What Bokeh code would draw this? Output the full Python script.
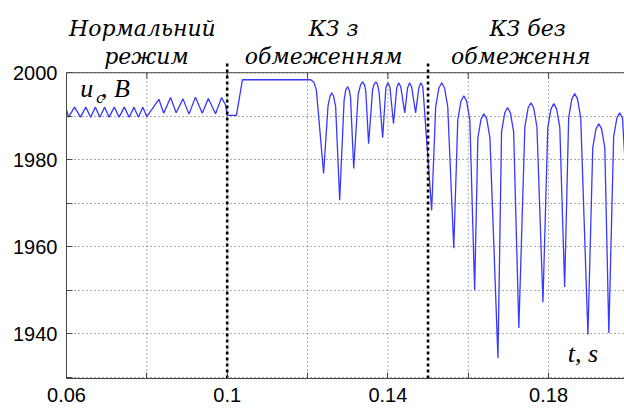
from bokeh.plotting import figure
from bokeh.models import FixedTicker, Label, Range1d, CustomJSTickFormatter
from bokeh.core.properties import value
from bokeh.embed import file_html
from bokeh.resources import INLINE

# ---- data ----
# normal mode (0.06 .. 0.1)
t_normal = [0.0600, 0.0605, 0.0620, 0.0635, 0.0648, 0.0660, 0.0672, 0.0683, 0.0695,
            0.0706, 0.0719, 0.0731, 0.0744, 0.0756, 0.0768, 0.0779, 0.0790, 0.0800,
            0.0830, 0.0842, 0.0859, 0.0873, 0.0890, 0.0905, 0.0921, 0.0938, 0.0953,
            0.0971, 0.0986, 0.0996]
u_normal = [1991.6, 1989.8, 1992.1, 1989.8, 1992.1, 1989.8, 1992.1, 1989.8, 1992.1,
            1989.8, 1992.1, 1989.8, 1992.1, 1989.8, 1992.1, 1989.8, 1992.1, 1989.9,
            1993.9, 1990.7, 1994.3, 1990.8, 1994.0, 1990.5, 1994.4, 1990.7, 1994.1,
            1990.6, 1994.3, 1992.6]

# short circuit with limiting (0.1 .. 0.15)
t_limited = [0.1000, 0.1023, 0.1038, 0.1208, 0.1216, 0.1222,
             0.1240,
             0.1251, 0.1256, 0.1260, 0.1265, 0.1270,
             0.1280,
             0.1291, 0.1295, 0.1300, 0.1304, 0.1307,
             0.1315,
             0.1326, 0.1332, 0.1337, 0.1342, 0.1345,
             0.1352,
             0.1362, 0.1366, 0.1370, 0.1374, 0.1378,
             0.1387,
             0.1395, 0.1400, 0.1405,
             0.1414,
             0.1422, 0.1427, 0.1432,
             0.1442,
             0.1449, 0.1454, 0.1459,
             0.1469,
             0.1477, 0.1482, 0.1487]
u_limited = [1990.2, 1990.2, 1998.4, 1998.4, 1997.8, 1996.0,
             1976.9,
             1992.4, 1994.6, 1995.4, 1994.6, 1992.2,
             1970.7,
             1993.6, 1996.0, 1996.8, 1996.0, 1994.4,
             1978.0,
             1995.0, 1997.2, 1997.9, 1997.2, 1995.8,
             1983.7,
             1996.2, 1997.4, 1997.9, 1997.4, 1995.6,
             1985.1,
             1996.5, 1997.7, 1996.8,
             1988.3,
             1996.5, 1997.7, 1996.8,
             1990.8,
             1996.5, 1997.7, 1996.8,
             1990.8,
             1996.5, 1997.7, 1996.8]

# short circuit without limiting (0.15 .. 0.2)
t_unlimited = [0.1509,
               0.1519, 0.1527, 0.1534, 0.1541, 0.1549,
               0.1564,
               0.1574, 0.1582, 0.1589, 0.1596, 0.1604,
               0.1616,
               0.1624, 0.1632, 0.1639, 0.1646, 0.1654,
               0.1674,
               0.1683, 0.1691, 0.1698, 0.1705, 0.1713,
               0.1726,
               0.1741, 0.1749, 0.1756, 0.1763, 0.1771,
               0.1786,
               0.1798, 0.1806, 0.1813, 0.1820, 0.1828,
               0.1840,
               0.1850, 0.1858, 0.1865, 0.1872, 0.1880,
               0.1898,
               0.1910, 0.1918, 0.1925, 0.1932, 0.1940,
               0.1950,
               0.1962, 0.1970, 0.1977, 0.1984, 0.1990]
u_unlimited = [1968.4,
               1992.2, 1996.5, 1997.7, 1996.5, 1992.2,
               1959.7,
               1989.2, 1993.5, 1994.7, 1993.5, 1989.2,
               1950.1,
               1985.1, 1989.4, 1990.6, 1989.4, 1985.1,
               1934.5,
               1986.5, 1990.8, 1992.0, 1990.8, 1986.5,
               1941.4,
               1987.6, 1991.9, 1993.1, 1991.9, 1987.6,
               1947.3,
               1987.4, 1991.7, 1992.9, 1991.7, 1987.4,
               1950.8,
               1989.7, 1994.0, 1995.2, 1994.0, 1989.7,
               1939.8,
               1982.8, 1987.1, 1988.3, 1987.1, 1982.8,
               1940.2,
               1985.3, 1989.6, 1990.8, 1989.6, 1980.0]

mode_bounds = [0.1, 0.15]
x_major = [0.06, 0.1, 0.14, 0.18]
x_minor = [0.08, 0.12, 0.16, 0.2]
y_major = [1940, 1960, 1980, 2000]
y_minor = [1930, 1950, 1970, 1990]

title_line1 = ["Нормальний", "КЗ з", "КЗ без"]
title_line2 = ["режим", "обмеженням", "обмеження"]

# ---- layout constants (not data) ----
T_MIN, T_MAX = 0.06, 0.1989
U_MIN, U_MAX = 1929.77, 2000.0        # plotting box
U_CANVAS_TOP = 2016.6                 # value at the very top of the canvas (title area)
TITLE_X1 = [0.0789, 0.1265, 0.1748]
TITLE_X2 = [0.0799, 0.1240, 0.1731]
TITLE_Y1, TITLE_Y2 = 2010.2, 2003.8
BOUND_TOP = 2002.3
TICK_LEN = 1.38
AXIS_COLOR = "#444444"
GRID_COLOR = "#555555"

t_all = t_normal + t_limited + t_unlimited
u_all = u_normal + u_limited + u_unlimited

p = figure(width=624, height=410, output_backend="svg", toolbar_location=None,
           x_range=Range1d(T_MIN, T_MAX), y_range=Range1d(U_MIN, U_CANVAS_TOP),
           min_border_left=66, min_border_right=0, min_border_top=0, min_border_bottom=32)
p.background_fill_color = "white"
p.border_fill_color = "white"
p.outline_line_color = None

fmt = CustomJSTickFormatter(code="return String(Math.round(tick*1000)/1000);")
for ax, maj, mnr in ((p.xaxis[0], x_major, x_minor), (p.yaxis[0], y_major, y_minor)):
    ax.ticker = FixedTicker(ticks=maj, minor_ticks=mnr)
    ax.formatter = fmt
    ax.major_tick_in = 6
    ax.major_tick_out = 0
    ax.minor_tick_in = 6
    ax.minor_tick_out = 0
    ax.axis_line_color = AXIS_COLOR
    ax.major_tick_line_color = AXIS_COLOR
    ax.minor_tick_line_color = AXIS_COLOR
    ax.major_label_text_font = "Liberation Sans"
    ax.major_label_text_font_size = "20px"
    ax.major_label_text_color = "black"
p.yaxis[0].bounds = (U_MIN, U_MAX)
p.xaxis[0].major_label_standoff = 9
p.yaxis[0].major_label_standoff = 9

# horizontal dotted grid
p.xgrid.visible = False
g = p.ygrid[0]
g.ticker = FixedTicker(ticks=y_major, minor_ticks=y_minor)
g.grid_line_color = GRID_COLOR
g.grid_line_dash = "1 3"
g.minor_grid_line_color = GRID_COLOR
g.minor_grid_line_dash = "1 3"

# vertical dotted grid limited to the plotting box
x_grid = x_major + x_minor
p.segment(x0=x_grid, x1=x_grid, y0=[U_MIN] * len(x_grid), y1=[U_MAX] * len(x_grid),
          line_color=GRID_COLOR, line_width=1, line_dash="1 3")

# upper border with inward ticks
p.segment(x0=[T_MIN], x1=[T_MAX], y0=[U_MAX], y1=[U_MAX], line_color=AXIS_COLOR, line_width=1)
p.segment(x0=x_grid, x1=x_grid, y0=[U_MAX] * len(x_grid), y1=[U_MAX - TICK_LEN] * len(x_grid),
          line_color=AXIS_COLOR, line_width=1)

p.line(t_all, u_all, line_color="#3838ff", line_width=1.3)

# mode boundaries
p.segment(x0=mode_bounds, x1=mode_bounds, y0=[U_MIN] * 2, y1=[BOUND_TOP] * 2,
          line_color="black", line_width=2.6, line_dash="3 3")

title_font = value("DejaVu Serif")
p.text(x=TITLE_X1, y=[TITLE_Y1] * 3, text=title_line1, text_align="center",
       text_baseline="alphabetic", text_font=title_font, text_font_style="italic",
       text_font_size="22px", text_color="black")
p.text(x=TITLE_X2, y=[TITLE_Y2] * 3, text=title_line2, text_align="center",
       text_baseline="alphabetic", text_font=title_font, text_font_style="italic",
       text_font_size="22px", text_color="black")

serif = dict(text_font="Liberation Serif", text_font_style="italic", text_color="black",
             text_baseline="alphabetic")
p.add_layout(Label(x=0.0634, y=1996.3, text="u", text_font_size="26px", **serif))
p.add_layout(Label(x=0.0674, y=1994.4, text="c", text_font_size="17px", **serif))
p.add_layout(Label(x=0.0686, y=1996.3, text=", B", text_font_size="26px", **serif))
p.add_layout(Label(x=0.1848, y=1935.5, text="t, s", text_font_size="26px", **serif))

open("out.html", "w").write(file_html(p, INLINE))
